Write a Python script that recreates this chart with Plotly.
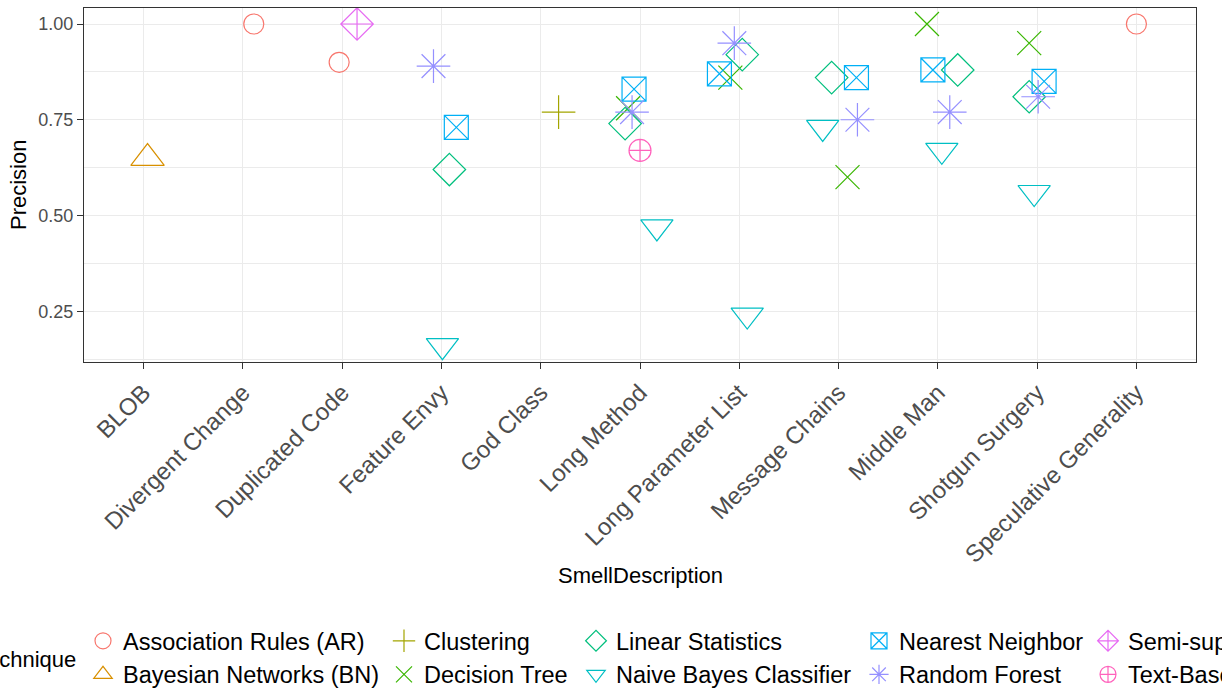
import plotly.graph_objects as go

# Categories on the x axis (code smells)
SMELLS = [
    "BLOB", "Divergent Change", "Duplicated Code", "Feature Envy", "God Class",
    "Long Method", "Long Parameter List", "Message Chains", "Middle Man",
    "Shotgun Surgery", "Speculative Generality",
]

# Detection techniques (legend order)
TECHNIQUES = [
    "Association Rules (AR)", "Bayesian Networks (BN)", "Clustering", "Decision Tree",
    "Linear Statistics", "Naive Bayes Classifier", "Nearest Neighbor", "Random Forest",
    "Semi-supervised Learning", "Text-Based Analysis",
]

# Long-format observations: technique, smell, precision and horizontal jitter
obs_technique = [
    "Association Rules (AR)", "Association Rules (AR)", "Association Rules (AR)",
    "Bayesian Networks (BN)",
    "Clustering",
    "Decision Tree", "Decision Tree", "Decision Tree", "Decision Tree", "Decision Tree",
    "Linear Statistics", "Linear Statistics", "Linear Statistics",
    "Linear Statistics", "Linear Statistics", "Linear Statistics",
    "Naive Bayes Classifier", "Naive Bayes Classifier", "Naive Bayes Classifier",
    "Naive Bayes Classifier", "Naive Bayes Classifier", "Naive Bayes Classifier",
    "Nearest Neighbor", "Nearest Neighbor", "Nearest Neighbor",
    "Nearest Neighbor", "Nearest Neighbor", "Nearest Neighbor",
    "Random Forest", "Random Forest", "Random Forest",
    "Random Forest", "Random Forest", "Random Forest",
    "Semi-supervised Learning",
    "Text-Based Analysis",
]
obs_smell = [
    "Divergent Change", "Duplicated Code", "Speculative Generality",
    "BLOB",
    "God Class",
    "Long Method", "Long Parameter List", "Message Chains", "Middle Man", "Shotgun Surgery",
    "Feature Envy", "Long Method", "Long Parameter List",
    "Message Chains", "Middle Man", "Shotgun Surgery",
    "Feature Envy", "Long Method", "Long Parameter List",
    "Message Chains", "Middle Man", "Shotgun Surgery",
    "Feature Envy", "Long Method", "Long Parameter List",
    "Message Chains", "Middle Man", "Shotgun Surgery",
    "Feature Envy", "Long Method", "Long Parameter List",
    "Message Chains", "Middle Man", "Shotgun Surgery",
    "Duplicated Code",
    "Long Method",
]
obs_precision = [
    1.00, 0.90, 1.00,
    0.65,
    0.77,
    0.78, 0.86, 0.60, 1.00, 0.95,
    0.62, 0.74, 0.92, 0.86, 0.88, 0.81,
    0.16, 0.47, 0.24, 0.73, 0.67, 0.56,
    0.73, 0.83, 0.87, 0.86, 0.88, 0.85,
    0.89, 0.77, 0.95, 0.75, 0.77, 0.81,
    1.00,
    0.67,
]
obs_jitter = [
    0.11, -0.03, 0.00,
    0.04,
    0.18,
    -0.12, -0.09, 0.09, -0.11, -0.08,
    0.08, -0.15, 0.03, -0.07, 0.20, -0.08,
    0.01, 0.17, 0.08, -0.16, 0.04, -0.03,
    0.15, -0.06, -0.20, 0.18, -0.05, 0.07,
    -0.08, -0.08, -0.05, 0.19, 0.12, 0.01,
    0.15,
    0.00,
]

# ggplot2-style hue palette and shapes 1..10
COLORS = ["#F8766D", "#D89000", "#A3A500", "#39B600", "#00BF7D",
          "#00BFC4", "#00B0F6", "#9590FF", "#E76BF3", "#FF62BC"]
SYMBOLS = ["circle-open", "triangle-up-open", "cross-thin-open", "x-thin-open",
           "diamond-open", "triangle-down-open", "square-x-open", "asterisk-open",
           "diamond-cross-open", "circle-cross-open"]
SIZES = [20, 29, 24, 24, 25, 28, 24, 28, 25, 22]

FONT = "Arial, Liberation Sans, sans-serif"
W, H = 1222, 690
ML, MR, MT, MB = 84, 26, 8, 328
PW, PH = W - ML - MR, H - MT - MB


def px_x(px):
    return (px - ML) / PW


def px_y(py):
    return (H - MB - py) / PH


fig = go.Figure()
for i, tech in enumerate(TECHNIQUES):
    xs, ys = [], []
    for t, s, p, j in zip(obs_technique, obs_smell, obs_precision, obs_jitter):
        if t == tech:
            xs.append(SMELLS.index(s) + j)
            ys.append(p)
    legend_id = "legend" if i // 2 == 0 else f"legend{i // 2 + 1}"
    fig.add_trace(go.Scatter(
        x=xs, y=ys, mode="markers", name=tech, legend=legend_id,
        marker=dict(symbol=SYMBOLS[i], size=SIZES[i], color=COLORS[i],
                    line=dict(color=COLORS[i], width=1.2)),
    ))

# Legend: five two-row columns below the plot
legend_cols_px = [83, 384, 576, 859, 1088]
legend_common = dict(
    orientation="v", xanchor="left", yanchor="top", y=px_y(619),
    bgcolor="rgba(0,0,0,0)", borderwidth=0, traceorder="normal",
    font=dict(family=FONT, size=23.5, color="#000000"),
    itemwidth=30,
)
legend_layout = {}
for k, cx in enumerate(legend_cols_px):
    key = "legend" if k == 0 else f"legend{k + 1}"
    legend_layout[key] = dict(x=px_x(cx), **legend_common)

fig.update_layout(
    width=W, height=H,
    margin=dict(l=ML, r=MR, t=MT, b=MB, autoexpand=False),
    paper_bgcolor="white", plot_bgcolor="white",
    showlegend=True,
    xaxis=dict(
        range=[-0.6, 10.6], tickmode="array",
        tickvals=list(range(len(SMELLS))), ticktext=SMELLS,
        tickangle=-45, tickfont=dict(family=FONT, size=24, color="#4D4D4D"),
        ticks="outside", ticklen=6, tickcolor="#333333", tickwidth=1,
        showgrid=True, gridcolor="#EBEBEB", gridwidth=1.1,
        showline=True, linecolor="#333333", linewidth=1.2, mirror=True,
        zeroline=False, automargin=False,
    ),
    yaxis=dict(
        range=[0.1174, 1.0418], tickmode="array",
        tickvals=[0.25, 0.50, 0.75, 1.00], ticktext=["0.25", "0.50", "0.75", "1.00"],
        tickfont=dict(family=FONT, size=18, color="#4D4D4D"),
        ticks="outside", ticklen=6, tickcolor="#333333", tickwidth=1,
        showgrid=True, gridcolor="#EBEBEB", gridwidth=1.1,
        minor=dict(tickvals=[0.125, 0.375, 0.625, 0.875], showgrid=True,
                   gridcolor="#EBEBEB", gridwidth=0.8, ticks=""),
        showline=True, linecolor="#333333", linewidth=1.2, mirror=True,
        zeroline=False, automargin=False,
    ),
    annotations=[
        dict(text="SmellDescription", xref="paper", yref="paper",
             x=0.5, y=px_y(575), xanchor="center", yanchor="middle",
             showarrow=False, font=dict(family=FONT, size=22, color="#000000")),
        dict(text="Precision", xref="paper", yref="paper", textangle=-90,
             x=px_x(18), y=0.5, xanchor="center", yanchor="middle",
             showarrow=False, font=dict(family=FONT, size=22, color="#000000")),
        dict(text="Technique", xref="paper", yref="paper",
             x=px_x(78), y=px_y(659), xanchor="right", yanchor="middle",
             showarrow=False, font=dict(family=FONT, size=22, color="#000000")),
    ],
    **legend_layout,
)

fig.write_html("out.html")
